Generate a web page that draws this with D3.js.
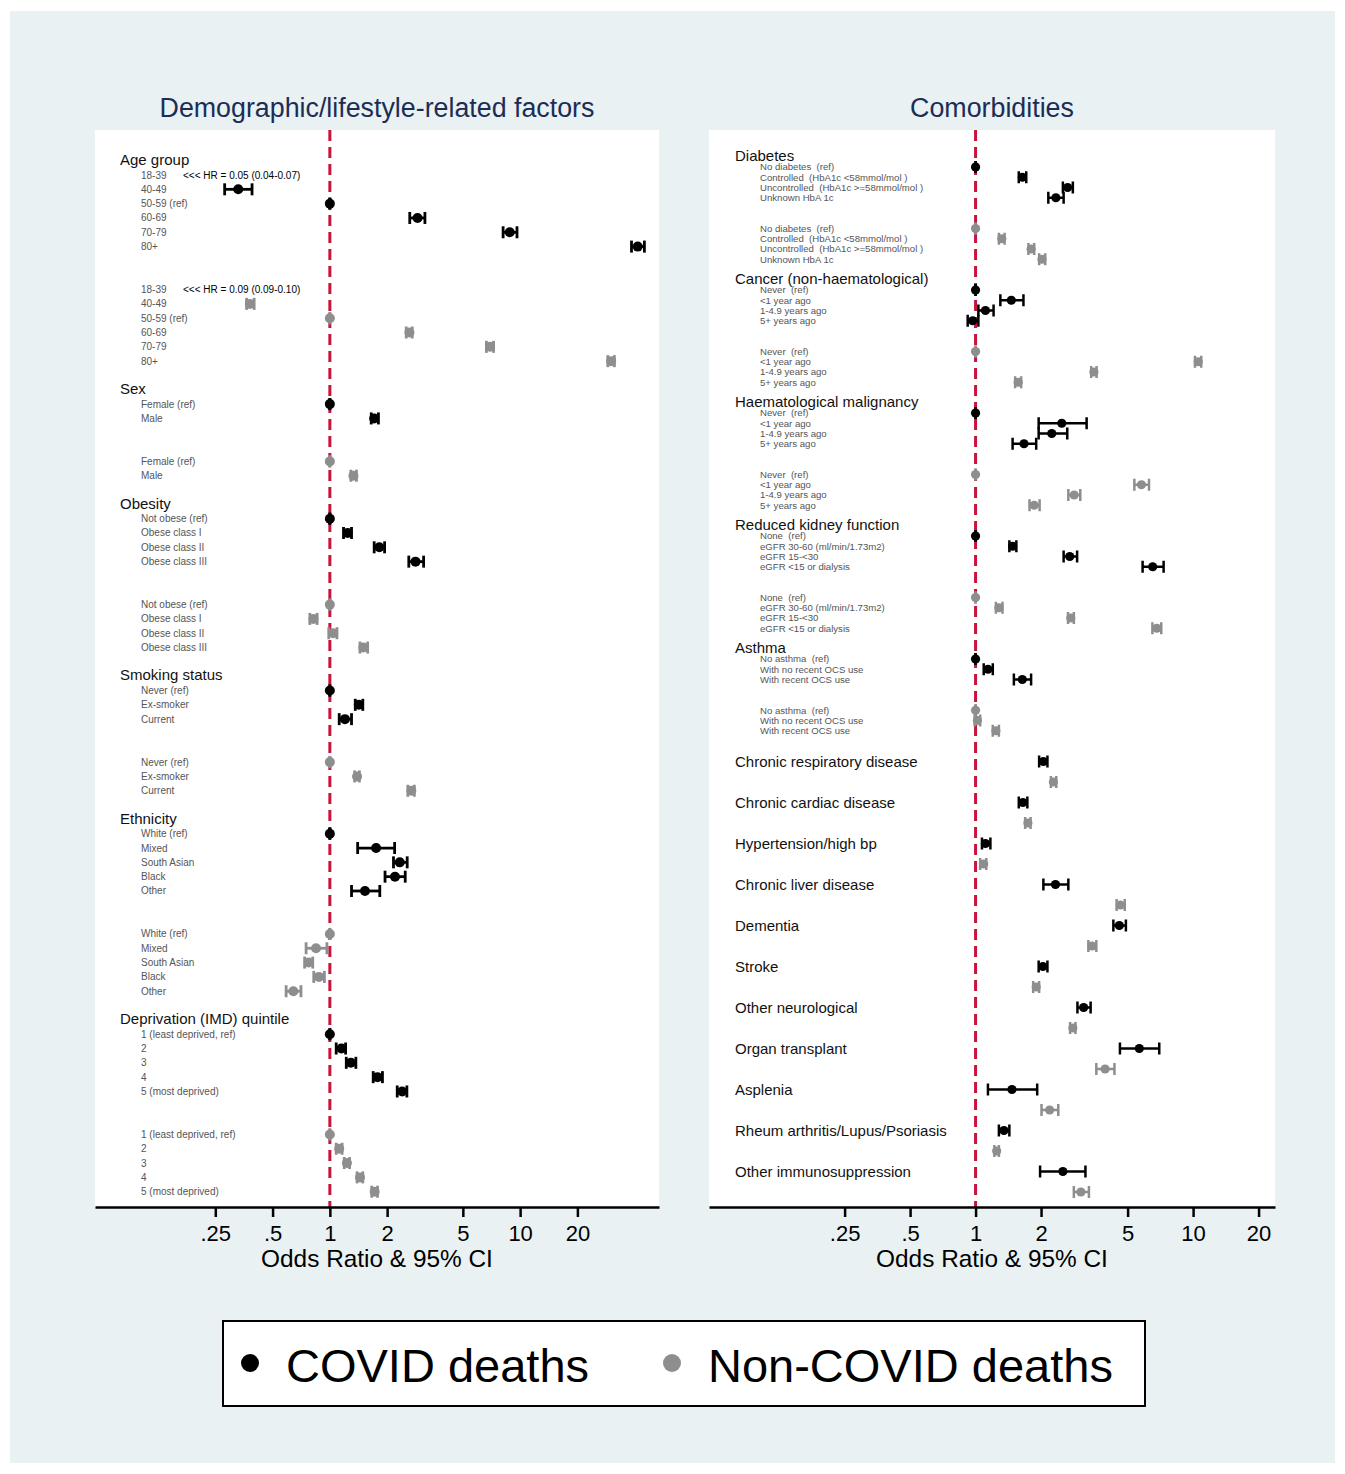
<!DOCTYPE html>
<html><head><meta charset="utf-8">
<script src="https://cdn.jsdelivr.net/npm/d3@7"></script>
<style>
body{margin:0;background:#fff}
svg{display:block}
text{font-family:"Liberation Sans",Arial,Helvetica,sans-serif}
</style>
</head><body>
<svg id="chart" width="1345" height="1474"></svg>
<script>
// ================= DATA =================
const xTicks = [0.25, 0.5, 1, 2, 5, 10, 20];
const xTickLabels = [".25", ".5", "1", "2", "5", "10", "20"];
const panelTitles = ["Demographic/lifestyle-related factors", "Comorbidities"];
const axisTitle = "Odds Ratio & 95% CI";
const seriesNames = ["COVID deaths", "Non-COVID deaths"];
const annotateBelow = 0.125; // estimates below this are written as text, not plotted

// ---- Left panel: [OR, lower, upper] ----
const ageLabels = ["18-39", "40-49", "50-59 (ref)", "60-69", "70-79", "80+"];
const ageCovid = [[0.05,0.04,0.07],[0.33,0.28,0.39],[1,1,1],[2.89,2.63,3.16],[8.82,8.14,9.63],[41.5,38.5,45.0]];
const ageNonCovid = [[0.09,0.09,0.10],[0.38,0.365,0.40],[1,1,1],[2.62,2.52,2.71],[6.95,6.65,7.25],[30.1,28.9,31.3]];

const sexLabels = ["Female (ref)", "Male"];
const sexCovid = [[1,1,1],[1.71,1.65,1.80]];
const sexNonCovid = [[1,1,1],[1.33,1.29,1.38]];

const obesityLabels = ["Not obese (ref)", "Obese class I", "Obese class II", "Obese class III"];
const obesityCovid = [[1,1,1],[1.24,1.18,1.30],[1.82,1.71,1.94],[2.82,2.60,3.11]];
const obesityNonCovid = [[1,1,1],[0.82,0.785,0.857],[1.04,0.987,1.09],[1.50,1.44,1.58]];

const smokingLabels = ["Never (ref)", "Ex-smoker", "Current"];
const smokingCovid = [[1,1,1],[1.42,1.36,1.49],[1.20,1.12,1.30]];
const smokingNonCovid = [[1,1,1],[1.39,1.35,1.43],[2.68,2.57,2.78]];

const ethnicityLabels = ["White (ref)", "Mixed", "South Asian", "Black", "Other"];
const ethnicityCovid = [[1,1,1],[1.75,1.40,2.19],[2.33,2.16,2.55],[2.20,1.95,2.49],[1.53,1.30,1.83]];
const ethnicityNonCovid = [[1,1,1],[0.846,0.75,0.965],[0.774,0.737,0.813],[0.876,0.823,0.936],[0.643,0.589,0.705]];

const imdLabels = ["1 (least deprived, ref)", "2", "3", "4", "5 (most deprived)"];
const imdCovid = [[1,1,1],[1.15,1.08,1.21],[1.29,1.22,1.37],[1.78,1.69,1.89],[2.40,2.26,2.54]];
const imdNonCovid = [[1,1,1],[1.12,1.08,1.16],[1.23,1.19,1.27],[1.44,1.39,1.49],[1.72,1.66,1.78]];

// ---- Right panel ----
const diabetesLabels = ["No diabetes  (ref)", "Controlled  (HbA1c <58mmol/mol )", "Uncontrolled  (HbA1c >=58mmol/mol )", "Unknown HbA 1c"];
const diabetesCovid = [[1,1,1],[1.64,1.58,1.71],[2.65,2.52,2.80],[2.34,2.16,2.54]];
const diabetesNonCovid = [[1,1,1],[1.32,1.28,1.36],[1.80,1.75,1.86],[2.02,1.96,2.09]];

const cancerLabels = ["Never  (ref)", "<1 year ago", "1-4.9 years ago", "5+ years ago"];
const cancerCovid = [[1,1,1],[1.46,1.30,1.66],[1.11,1.03,1.21],[0.97,0.92,1.03]];
const cancerNonCovid = [[1,1,1],[10.56,10.2,10.9],[3.50,3.40,3.60],[1.57,1.52,1.62]];

const haemLabels = ["Never  (ref)", "<1 year ago", "1-4.9 years ago", "5+ years ago"];
const haemCovid = [[1,1,1],[2.49,1.95,3.24],[2.24,1.95,2.64],[1.67,1.48,1.90]];
const haemNonCovid = [[1,1,1],[5.79,5.37,6.27],[2.84,2.67,3.03],[1.86,1.77,1.97]];

const kidneyLabels = ["None  (ref)", "eGFR 30-60 (ml/min/1.73m2)", "eGFR 15-<30", "eGFR <15 or dialysis"];
const kidneyCovid = [[1,1,1],[1.48,1.43,1.54],[2.71,2.54,2.93],[6.52,5.86,7.32]];
const kidneyNonCovid = [[1,1,1],[1.28,1.24,1.33],[2.74,2.66,2.83],[6.81,6.50,7.14]];

const asthmaLabels = ["No asthma  (ref)", "With no recent OCS use", "With recent OCS use"];
const asthmaCovid = [[1,1,1],[1.14,1.09,1.20],[1.64,1.50,1.80]];
const asthmaNonCovid = [[1,1,1],[1.02,0.99,1.05],[1.24,1.20,1.28]];

const conditionLabels = ["Chronic respiratory disease", "Chronic cardiac disease", "Hypertension/high bp", "Chronic liver disease", "Dementia", "Stroke", "Other neurological", "Organ transplant", "Asplenia", "Rheum arthritis/Lupus/Psoriasis", "Other immunosuppression"];
const conditionCovid = [[2.05,1.96,2.14],[1.65,1.58,1.73],[1.11,1.07,1.17],[2.33,2.05,2.67],[4.58,4.30,4.91],[2.04,1.95,2.14],[3.14,2.94,3.38],[5.66,4.61,6.99],[1.47,1.14,1.92],[1.35,1.28,1.43],[2.52,1.98,3.20]];
const conditionNonCovid = [[2.28,2.22,2.35],[1.74,1.69,1.79],[1.09,1.05,1.12],[4.63,4.45,4.85],[3.43,3.30,3.59],[1.90,1.84,1.96],[2.80,2.72,2.88],[3.94,3.59,4.35],[2.19,2.01,2.40],[1.25,1.22,1.28],[3.05,2.83,3.32]];

// ================= BUILD =================
const leftGroups = [
  {title:"Age group", labels:ageLabels, covid:ageCovid, non:ageNonCovid},
  {title:"Sex", labels:sexLabels, covid:sexCovid, non:sexNonCovid},
  {title:"Obesity", labels:obesityLabels, covid:obesityCovid, non:obesityNonCovid},
  {title:"Smoking status", labels:smokingLabels, covid:smokingCovid, non:smokingNonCovid},
  {title:"Ethnicity", labels:ethnicityLabels, covid:ethnicityCovid, non:ethnicityNonCovid},
  {title:"Deprivation (IMD) quintile", labels:imdLabels, covid:imdCovid, non:imdNonCovid}
];
const rightGroups = [
  {title:"Diabetes", labels:diabetesLabels, covid:diabetesCovid, non:diabetesNonCovid},
  {title:"Cancer (non-haematological)", labels:cancerLabels, covid:cancerCovid, non:cancerNonCovid},
  {title:"Haematological malignancy", labels:haemLabels, covid:haemCovid, non:haemNonCovid},
  {title:"Reduced kidney function", labels:kidneyLabels, covid:kidneyCovid, non:kidneyNonCovid},
  {title:"Asthma", labels:asthmaLabels, covid:asthmaCovid, non:asthmaNonCovid}
];

function buildRows(groups, singles) {
  const headers = [], subs = [], pts = [];
  let s = 0;
  groups.forEach(g => {
    const n = g.labels.length;
    headers.push({idx: s - 1, text: g.title});
    g.labels.forEach((lab, k) => {
      subs.push({idx: s + k, text: lab});
      subs.push({idx: s + n + 2 + k, text: lab});
      pts.push({idx: s + k, v: g.covid[k], series: 0});
      pts.push({idx: s + n + 2 + k, v: g.non[k], series: 1});
    });
    s += 2 * n + 4;
  });
  if (singles) {
    singles.labels.forEach((lab, k) => {
      headers.push({idx: s, text: lab, single: true});
      pts.push({idx: s, v: singles.covid[k], series: 0});
      pts.push({idx: s + 2, v: singles.non[k], series: 1});
      s += 4;
    });
  }
  return {headers, subs, pts};
}

const svg = d3.select("#chart");
const W = 1345, H = 1474;
const bg = "#e9f1f3";
const seriesColors = ["#000000", "#8e8e8e"];
const refColor = "#c8143c";

svg.append("rect").attr("x",0).attr("y",0).attr("width",W).attr("height",H).attr("fill","#ffffff");
svg.append("rect").attr("x",10).attr("y",11).attr("width",W-20).attr("height",H-22).attr("fill",bg);

const panels = [
  {
    x0: 95, x1: 659, top: 130, bottom: 1207,
    domain: [0.0583, 53.7],
    rows: buildRows(leftGroups, null),
    yDomain: [0, 71], yRange: [175, 1191.7],
    headX: 120, subX: 141, headSize: 15, subSize: 10,
    r: 5, cap: 6, lw: 2.8, title: panelTitles[0], annX: 183
  },
  {
    x0: 709, x1: 1275, top: 130, bottom: 1207,
    domain: [0.0595, 23.8],
    rows: buildRows(rightGroups, {labels:conditionLabels, covid:conditionCovid, non:conditionNonCovid}),
    yDomain: [0, 100], yRange: [167, 1192],
    headX: 735, subX: 760, headSize: 15, subSize: 9.6,
    r: 4.6, cap: 6, lw: 2.5, title: panelTitles[1], annX: 780
  }
];

panels.forEach(p => {
  const x = d3.scaleLog().domain(p.domain).range([p.x0, p.x1]);
  const y = d3.scaleLinear().domain(p.yDomain).range(p.yRange);
  const g = svg.append("g");

  g.append("rect").attr("x", p.x0).attr("y", p.top).attr("width", p.x1 - p.x0).attr("height", p.bottom - p.top).attr("fill", "#fff");

  // title
  g.append("text").attr("x", (p.x0 + p.x1) / 2).attr("y", 117).attr("text-anchor", "middle")
    .attr("font-size", 26.8).attr("fill", "#1c2d55").text(p.title);

  // labels
  g.selectAll(".hd").data(p.rows.headers).join("text")
    .attr("x", p.headX).attr("y", d => y(d.idx) - (d.single ? 0 : 1)).attr("dy", "0.35em")
    .attr("font-size", p.headSize).attr("fill", "#111").text(d => d.text);
  g.selectAll(".sb").data(p.rows.subs).join("text")
    .attr("x", p.subX).attr("y", d => y(d.idx)).attr("dy", "0.35em")
    .attr("font-size", p.subSize).attr("fill", "#555").style("white-space", "pre").text(d => d.text);

  // reference line
  g.append("line").attr("x1", x(1)).attr("x2", x(1)).attr("y1", p.top).attr("y2", p.bottom)
    .attr("stroke", refColor).attr("stroke-width", 3).attr("stroke-dasharray", "11,6");

  const inRange = p.rows.pts.filter(d => d.v[0] >= annotateBelow);
  const offRange = p.rows.pts.filter(d => d.v[0] < annotateBelow);

  // error bars
  const eb = g.selectAll(".eb").data(inRange).join("g").attr("stroke", d => seriesColors[d.series]).attr("stroke-width", p.lw);
  eb.append("line").attr("x1", d => x(d.v[1])).attr("x2", d => x(d.v[2])).attr("y1", d => y(d.idx)).attr("y2", d => y(d.idx));
  eb.append("line").attr("x1", d => x(d.v[1])).attr("x2", d => x(d.v[1])).attr("y1", d => y(d.idx) - p.cap).attr("y2", d => y(d.idx) + p.cap);
  eb.append("line").attr("x1", d => x(d.v[2])).attr("x2", d => x(d.v[2])).attr("y1", d => y(d.idx) - p.cap).attr("y2", d => y(d.idx) + p.cap);
  g.selectAll(".pt").data(inRange).join("circle")
    .attr("cx", d => x(d.v[0])).attr("cy", d => y(d.idx)).attr("r", p.r).attr("fill", d => seriesColors[d.series]);

  // off-scale annotations
  g.selectAll(".ann").data(offRange).join("text")
    .attr("x", p.annX).attr("y", d => y(d.idx)).attr("dy", "0.35em").attr("font-size", 10).attr("fill", "#000")
    .text(d => `<<< HR = ${d.v[0].toFixed(2)} (${d.v[1].toFixed(2)}-${d.v[2].toFixed(2)})`);

  // axis
  const ax = g.append("g").attr("transform", `translate(0,${p.bottom})`)
    .call(d3.axisBottom(x).tickValues(xTicks).tickFormat((d, i) => xTickLabels[i]).tickSize(10).tickSizeOuter(0).tickPadding(8));
  ax.select(".domain").attr("stroke", "#000").attr("stroke-width", 2.5);
  ax.selectAll(".tick line").attr("stroke", "#000").attr("stroke-width", 2.5);
  ax.selectAll(".tick text").attr("font-size", 22).attr("fill", "#000").style("font-family", '"Liberation Sans",Arial,sans-serif');
  g.append("text").attr("x", (p.x0 + p.x1) / 2).attr("y", 1267).attr("text-anchor", "middle")
    .attr("font-size", 24.4).attr("fill", "#000").text(axisTitle);
});

// legend
const lg = svg.append("g");
lg.append("rect").attr("x", 223).attr("y", 1321).attr("width", 922).attr("height", 85)
  .attr("fill", "#fff").attr("stroke", "#000").attr("stroke-width", 2);
const legendX = [250, 672];
seriesNames.forEach((nm, i) => {
  lg.append("circle").attr("cx", legendX[i]).attr("cy", 1363).attr("r", 9).attr("fill", seriesColors[i]);
  lg.append("text").attr("x", legendX[i] + 36).attr("y", 1382).attr("font-size", 47).attr("fill", "#000").text(nm);
});
</script>
</body></html>
